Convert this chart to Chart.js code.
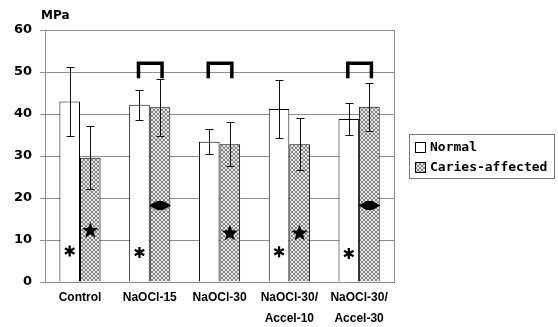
<!DOCTYPE html>
<html>
<head>
<meta charset="utf-8">
<script src="https://cdn.jsdelivr.net/npm/chart.js@4.4.1/dist/chart.umd.min.js"></script>
<style>
  html, body { margin: 0; padding: 0; background: #fff; }
</style>
</head>
<body>
<canvas id="chart" width="558" height="327"></canvas>
<script>
/* ---------- data ---------- */
const categories = [["Control"], ["NaOCl-15"], ["NaOCl-30"], ["NaOCl-30/", "Accel-10"], ["NaOCl-30/", "Accel-30"]];
const seriesNames = ["Normal", "Caries-affected"];
const normalMean = [43.0, 42.2, 33.4, 41.2, 38.8];
const normalSD   = [8.2, 3.6, 3.0, 6.8, 3.9];
const cariesMean = [29.6, 41.6, 32.8, 32.8, 41.7];
const cariesSD   = [7.5, 6.8, 5.2, 6.2, 5.8];

// significance marks (value = height on the MPa axis)
const asteriskAt = [7.4, 7.0, null, 7.2, 6.8];     // on Normal bars
const starAt     = [12.2, null, 11.6, 11.6, null]; // on Caries bars
const diamondAt  = [null, 18.2, null, null, 18.2]; // on Caries bars
const bracketTop = [null, 52.1, 52.1, null, 52.1];
const bracketFoot = 48.5;

const yMin = 0, yMax = 60, yStep = 10;
const unitLabel = "MPa";

const GRID = "#8e8e8e";

/* ---------- hatch pattern for caries bars ---------- */
function makePattern(){
  const c = document.createElement("canvas");
  c.width = 4; c.height = 4;
  const g = c.getContext("2d");
  g.fillStyle = "#e6e6e6";
  g.fillRect(0, 0, 4, 4);
  g.fillStyle = "#858585";
  [[0,0],[1,1],[2,2],[3,3],[3,0],[2,1],[1,2],[0,3]].forEach(p => g.fillRect(p[0], p[1], 1, 1));
  return g.createPattern(c, "repeat");
}
const hatch = makePattern();

/* ---------- error bars, marks, frame, unit, legend ---------- */
const extras = {
  id: "extras",
  afterDatasetsDraw(chart){
    const ctx = chart.ctx;
    const ys = chart.scales.y;
    const area = chart.chartArea;
    const mN = chart.getDatasetMeta(0).data;
    const mC = chart.getDatasetMeta(1).data;

    ctx.save();

    // right frame line
    ctx.strokeStyle = GRID;
    ctx.lineWidth = 1;
    ctx.beginPath();
    ctx.moveTo(Math.round(area.right) + 0.5, area.top);
    ctx.lineTo(Math.round(area.right) + 0.5, area.bottom);
    ctx.stroke();

    // error bars
    ctx.strokeStyle = "#111";
    ctx.lineWidth = 1;
    [[mN, normalMean, normalSD], [mC, cariesMean, cariesSD]].forEach(([els, mean, sd]) => {
      els.forEach((el, i) => {
        const x = Math.round(el.x) + 0.5;
        const hi = Math.round(ys.getPixelForValue(mean[i] + sd[i])) + 0.5;
        const lo = Math.round(ys.getPixelForValue(mean[i] - sd[i])) + 0.5;
        ctx.beginPath();
        ctx.moveTo(x, hi); ctx.lineTo(x, lo);
        ctx.moveTo(x - 4, hi); ctx.lineTo(x + 4, hi);
        ctx.moveTo(x - 4, lo); ctx.lineTo(x + 4, lo);
        ctx.stroke();
      });
    });

    // asterisks
    ctx.strokeStyle = "#000";
    ctx.lineWidth = 2.3;
    asteriskAt.forEach((v, i) => {
      if (v == null) return;
      const x = mN[i].x, y = ys.getPixelForValue(v), r = 5.5;
      ctx.beginPath();
      for (let k = 0; k < 3; k++){
        const a = Math.PI / 2 + k * Math.PI / 3;
        ctx.moveTo(x + r * Math.cos(a), y + r * Math.sin(a));
        ctx.lineTo(x - r * Math.cos(a), y - r * Math.sin(a));
      }
      ctx.stroke();
    });

    // filled stars
    ctx.fillStyle = "#000";
    starAt.forEach((v, i) => {
      if (v == null) return;
      const x = mC[i].x, y = ys.getPixelForValue(v), R = 8.5, r = 3.6;
      ctx.beginPath();
      for (let k = 0; k < 10; k++){
        const a = -Math.PI / 2 + k * Math.PI / 5;
        const rr = k % 2 ? r : R;
        ctx.lineTo(x + rr * Math.cos(a), y + rr * Math.sin(a));
      }
      ctx.closePath();
      ctx.fill();
    });

    // horizontal diamonds
    diamondAt.forEach((v, i) => {
      if (v == null) return;
      const x = mC[i].x, y = ys.getPixelForValue(v);
      ctx.beginPath();
      ctx.moveTo(x - 11, y);
      ctx.lineTo(x - 3, y - 4.5);
      ctx.lineTo(x + 3, y - 4.5);
      ctx.lineTo(x + 11, y);
      ctx.lineTo(x + 3, y + 4.5);
      ctx.lineTo(x - 3, y + 4.5);
      ctx.closePath();
      ctx.fill();
    });

    // brackets
    ctx.lineWidth = 3.5;
    ctx.lineJoin = "miter";
    bracketTop.forEach((v, i) => {
      if (v == null) return;
      const x1 = mN[i].x - 1, x2 = mC[i].x + 2;
      const yt = ys.getPixelForValue(v), yf = ys.getPixelForValue(bracketFoot);
      ctx.beginPath();
      ctx.moveTo(x1, yf); ctx.lineTo(x1, yt); ctx.lineTo(x2, yt); ctx.lineTo(x2, yf);
      ctx.stroke();
    });

    // unit label
    ctx.fillStyle = "#000";
    ctx.font = "bold 12px 'DejaVu Sans'";
    ctx.textAlign = "left";
    ctx.textBaseline = "middle";
    ctx.fillText(unitLabel, area.left - 4, area.top - 14);

    // legend
    const lx = area.right + 15, lw = 145, lh = 44;
    const ly = (area.top + area.bottom) / 2 - lh / 2;
    ctx.strokeStyle = "#777";
    ctx.lineWidth = 1;
    ctx.strokeRect(Math.round(lx) + 0.5, Math.round(ly) + 0.5, lw, lh);
    ctx.font = "bold 13px 'DejaVu Sans Mono'";
    [["#fff", seriesNames[0]], [hatch, seriesNames[1]]].forEach(([fill, name], k) => {
      const cy = ly + 13 + k * 20;
      ctx.fillStyle = fill;
      ctx.fillRect(lx + 6, cy - 5, 10, 10);
      ctx.strokeStyle = "#000";
      ctx.strokeRect(Math.round(lx + 6) + 0.5, Math.round(cy - 5) + 0.5, 10, 10);
      ctx.fillStyle = "#000";
      ctx.fillText(name, lx + 21, cy + 1);
    });

    ctx.restore();
  }
};

new Chart(document.getElementById("chart"), {
  type: "bar",
  data: {
    labels: categories,
    datasets: [
      {
        label: seriesNames[0],
        data: normalMean,
        backgroundColor: "#ffffff",
        borderColor: "#000",
        borderWidth: 1,
        categoryPercentage: 0.59,
        barPercentage: 1.0
      },
      {
        label: seriesNames[1],
        data: cariesMean,
        backgroundColor: hatch,
        borderColor: "#000",
        borderWidth: 1,
        categoryPercentage: 0.59,
        barPercentage: 1.0
      }
    ]
  },
  options: {
    responsive: false,
    animation: false,
    devicePixelRatio: 1,
    layout: { padding: { left: 6, right: 164, top: 30, bottom: -7 } },
    plugins: {
      legend: { display: false },
      tooltip: { enabled: false }
    },
    scales: {
      x: {
        grid: { display: false, drawTicks: false },
        border: { color: GRID, width: 1 },
        ticks: {
          color: "#000",
          padding: 5,
          maxRotation: 0,
          autoSkip: false,
          font: { family: "'Liberation Sans'", size: 12, weight: "bold", lineHeight: 1.75 }
        }
      },
      y: {
        min: yMin,
        max: yMax,
        grid: { color: GRID, tickLength: 5 },
        border: { color: GRID, width: 1 },
        ticks: {
          stepSize: yStep,
          color: "#000",
          padding: 8,
          font: { family: "'DejaVu Sans'", size: 13, weight: "bold" }
        }
      }
    }
  },
  plugins: [extras]
});
</script>
</body>
</html>
